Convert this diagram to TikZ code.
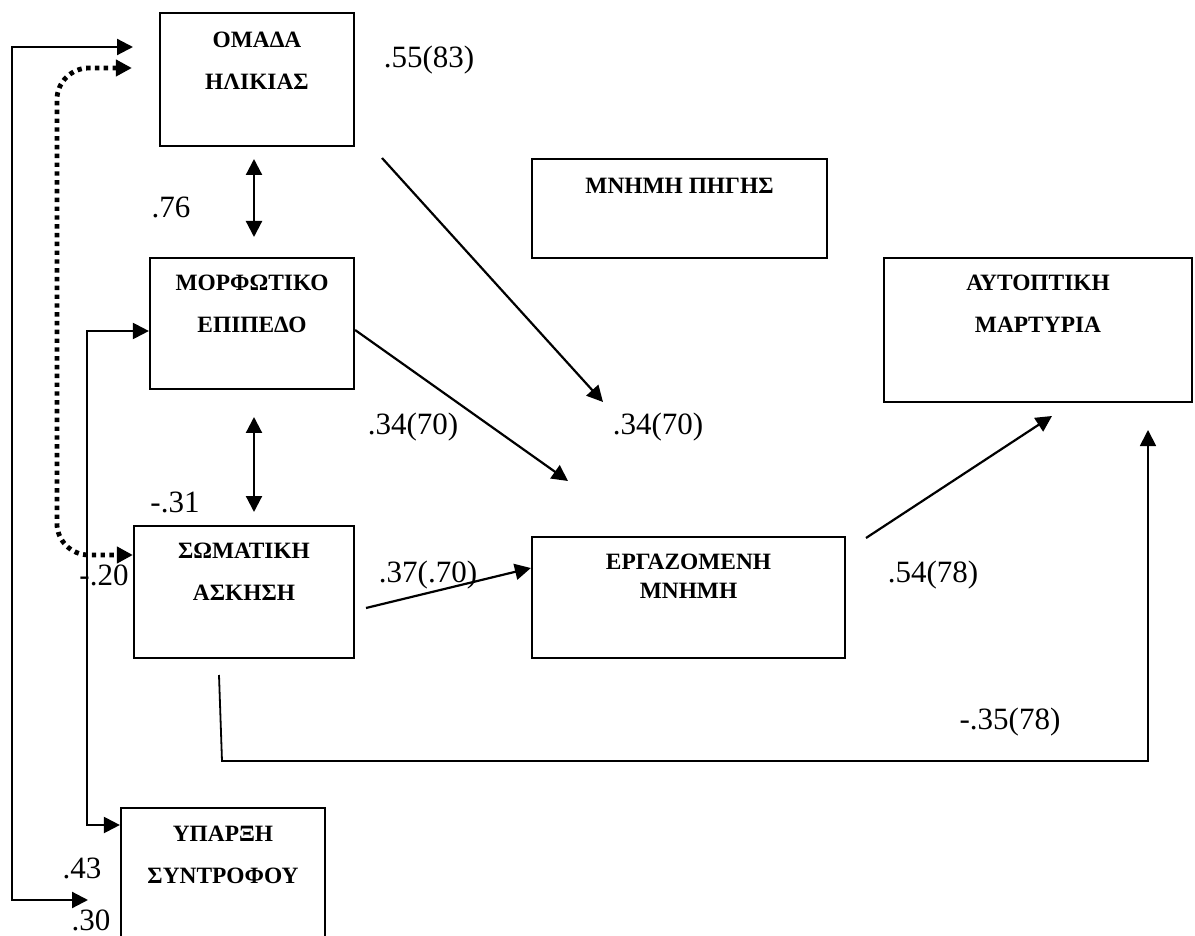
\documentclass[tikz,border=0pt]{standalone}
\usepackage{fontspec}
\setmainfont{Liberation Serif}
\usetikzlibrary{arrows.meta,positioning}

\tikzset{
  box/.style={draw, line width=1.1pt, inner sep=0pt},
  boxtext/.style={font=\bfseries\fontsize{11.7}{21}\selectfont, align=center, inner sep=0pt},
  coef/.style={font=\fontsize{15.5}{18}\selectfont, inner sep=0pt},
  arr/.style={line width=1.1pt, -{Triangle[length=8pt,width=8pt]}},
  dbl/.style={line width=1.1pt, {Triangle[length=8pt,width=8pt]}-{Triangle[length=8pt,width=8pt]}},
  dotarr/.style={line width=2.4pt, dash pattern=on 2.2pt off 2.2pt, rounded corners=16pt,
    {Triangle[length=8pt,width=8pt]}-{Triangle[length=8pt,width=8pt]}}
}

\begin{document}
\begin{tikzpicture}[x=0.5pt,y=-0.5pt]
        \useasboundingbox (0,0) rectangle (1195,936);

        % boxes
        \node[box, minimum width=97pt, minimum height=66.5pt] (omada) at (257,79.5) {};
        \node[box, minimum width=102pt, minimum height=65.5pt] (morf) at (252,323.5) {};
        \node[box, minimum width=110pt, minimum height=66pt] (soma) at (244,592) {};
        \node[box, minimum width=147.5pt, minimum height=49.5pt] (pigis) at (679.5,208.5) {};
        \node[box, minimum width=154pt, minimum height=72pt] (autopt) at (1038,330) {};
        \node[box, minimum width=156.5pt, minimum height=60.5pt] (ergaz) at (688.5,597.5) {};
        \node[box, minimum width=102pt, minimum height=66pt] (yparxi) at (223,874) {};

        \node[boxtext, below=10pt of omada.north] (omadaT) {ΟΜΑΔΑ\\ΗΛΙΚΙΑΣ};
        \node[boxtext, below=9pt of morf.north] (morfT) {ΜΟΡΦΩΤΙΚΟ\\ΕΠΙΠΕΔΟ};
        \node[boxtext, below=9pt of soma.north] (somaT) {ΣΩΜΑΤΙΚΗ\\ΑΣΚΗΣΗ};
        \node[boxtext, below=10pt of pigis.north] (pigisT) {ΜΝΗΜΗ ΠΗΓΗΣ};
        \node[boxtext, below=9pt of autopt.north] (autoptT) {ΑΥΤΟΠΤΙΚΗ\\ΜΑΡΤΥΡΙΑ};
        \node[boxtext, font=\bfseries\fontsize{11.7}{14.5}\selectfont, below=9pt of ergaz.north] (ergazT) {ΕΡΓΑΖΟΜΕΝΗ\\ΜΝΗΜΗ};
        \node[boxtext, below=9.5pt of yparxi.north] (yparxiT) {ΥΠΑΡΞΗ\\ΣΥΝΤΡΟΦΟΥ};

        % free ends
        \coordinate (ageTip) at (133,47);
        \coordinate (partTip) at (88,900);
        \coordinate (d1a) at (254,159);
        \coordinate (d1b) at (254,237);
        \coordinate (d2a) at (254,417);
        \coordinate (d2b) at (254,512);
        \coordinate (ageOut) at (382,158);
        \coordinate (ageEnd) at (603,402);
        \coordinate (eduEnd) at (568,481);
        \coordinate (somaOut) at (366,608);
        \coordinate (wmOut) at (866,538);
        \coordinate (wmEnd) at (1052,416);
        \coordinate (somaLow) at (219,675);
        \coordinate (autoLow) at (1148,430);

        % connectors
        \draw[dbl] (ageTip) -- ++(-121,0) |- (partTip);
        \draw[dbl] ([yshift=-3.75pt]morf.west) -- ++(-62,0) |- ([yshift=24.5pt]yparxi.west);
        \draw[dotarr] ([shift={(-13.5pt,5.75pt)}]omada.west) -- ++(-75,0) -- ++(0,487) -- ([yshift=18.5pt]soma.west);
        \draw[dbl] (d1a) -- (d1b);
        \draw[dbl] (d2a) -- (d2b);
        \draw[arr] (ageOut) -- (ageEnd);
        \draw[arr] ([yshift=-3.25pt]morf.east) -- (eduEnd);
        \draw[arr] (somaOut) -- ([yshift=14.75pt]ergaz.west);
        \draw[arr] (wmOut) -- (wmEnd);
        \draw[arr, line width=0.9pt] (somaLow) -- (222,761) -| (autoLow);

        % coefficients
        \node[coef] (c55) at (429,60) {.55(83)};
        \node[coef] (c76) at (171,207) {.76};
        \node[coef] (c31) at (175,502) {-.31};
        \node[coef] (c20) at (104,575) {-.20};
        \node[coef] (c34a) at (413,427) {.34(70)};
        \node[coef] (c34b) at (658,427) {.34(70)};
        \node[coef] (c37) at (428,575) {.37(.70)};
        \node[coef] (c54) at (933,575) {.54(78)};
        \node[coef] (c35) at (1010,722) {-.35(78)};
        \node[coef] (c43) at (82,868) {.43};
        \node[coef] (c30) at (91,920) {.30};
\end{tikzpicture}
\end{document}
